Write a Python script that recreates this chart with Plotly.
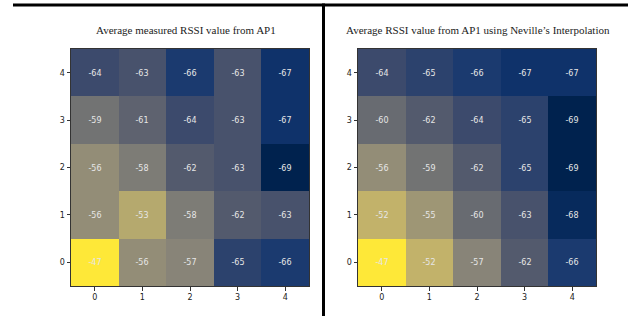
import plotly.graph_objects as go

cols = [0, 1, 2, 3, 4]
rows = [0, 1, 2, 3, 4]
tick_labels = ["0", "1", "2", "3", "4"]

# rows listed from y=0 (bottom) to y=4 (top)
measured = [
    [-47, -56, -57, -65, -66],
    [-56, -53, -58, -62, -63],
    [-56, -58, -62, -63, -69],
    [-59, -61, -64, -63, -67],
    [-64, -63, -66, -63, -67],
]
neville = [
    [-47, -52, -57, -62, -66],
    [-52, -55, -60, -63, -68],
    [-56, -59, -62, -65, -69],
    [-60, -62, -64, -65, -69],
    [-64, -65, -66, -67, -67],
]
titles = ["Average measured RSSI value from AP1",
          "Average RSSI value from AP1 using Neville\u2019s Interpolation"]

W, H = 628, 316
fig = go.Figure()

def heat(z, xa, ya):
    txt = [[str(v) for v in row] for row in z]
    return go.Heatmap(
        z=z, x=cols, y=rows, xaxis=xa, yaxis=ya, text=txt,
        colorscale="Cividis", zmin=-69, zmax=-47, showscale=False,
        texttemplate="%{text}", textfont=dict(family="DejaVu Sans", size=8, color="#e6e6e6"),
        hoverinfo="skip", xgap=0, ygap=0,
    )

fig.add_trace(heat(measured, "x", "y"))
fig.add_trace(heat(neville, "x2", "y2"))

ydom = [(H - 286) / H, (H - 49) / H]
ax_common = dict(
    tickmode="array", tickvals=cols, ticktext=tick_labels,
    range=[-0.5, 4.5], showgrid=False, zeroline=False,
    showline=True, linecolor="#333", linewidth=1, mirror=True,
    ticks="outside", ticklen=3.5, tickwidth=1, tickcolor="#333",
    tickfont=dict(family="DejaVu Sans", size=8, color="#222"),
)
fig.update_layout(
    width=W, height=H, margin=dict(l=0, r=0, t=0, b=0),
    paper_bgcolor="white", plot_bgcolor="white",
    xaxis=dict(domain=[71 / W, 309 / W], anchor="y", **ax_common),
    yaxis=dict(domain=ydom, anchor="x", **ax_common),
    xaxis2=dict(domain=[358 / W, 596 / W], anchor="y2", **ax_common),
    yaxis2=dict(domain=ydom, anchor="x2", **ax_common),
    showlegend=False,
)

fig.add_annotation(text=titles[0], xref="paper", yref="paper", x=186 / W, y=(H - 30) / H,
                   showarrow=False, xanchor="center", yanchor="middle",
                   font=dict(family="Liberation Serif", size=11, color="#222"))
fig.add_annotation(text=titles[1], xref="paper", yref="paper", x=478 / W, y=(H - 30) / H,
                   showarrow=False, xanchor="center", yanchor="middle",
                   font=dict(family="Liberation Serif", size=11, color="#222"))

# frame lines
fig.add_shape(type="line", xref="paper", yref="paper", x0=13 / W, x1=1, y0=(H - 5) / H, y1=(H - 5) / H,
              line=dict(color="black", width=3))
fig.add_shape(type="line", xref="paper", yref="paper", x0=323.5 / W, x1=323.5 / W, y0=0, y1=(H - 3.5) / H,
              line=dict(color="black", width=3))

fig.write_html("out.html", config={"displayModeBar": False},
               post_script="document.body.style.margin='0px';")
